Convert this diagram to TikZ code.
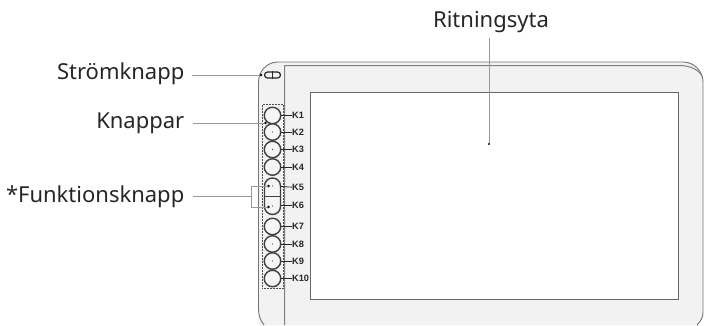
\documentclass[tikz,border=0pt]{standalone}
\usepackage{fontspec}
\setmainfont{Noto Sans}
\newfontfamily\keyfont{Liberation Sans}
\tikzset{
 lbl/.style={inner sep=0pt,font=\fontsize{22}{26}\selectfont,text=black!85},
 leader/.style={draw=black!40,line width=0.5pt},
 blob/.style={circle,fill=black,inner sep=0pt,minimum size=2.6pt},
 tiny/.style={circle,fill=black!70,inner sep=0pt,minimum size=1.2pt},
 kbtn/.style={circle,draw=black!75,line width=1.4pt,minimum size=16.5pt,inner sep=0pt,fill=black!4},
 klbl/.style={inner sep=0pt,anchor=west,font=\keyfont\bfseries\fontsize{9.2}{11}\selectfont,text=black!85},
 ktick/.style={draw=black!85,line width=0.8pt},
 frameline/.style={draw=black!50,line width=1pt},
}
\begin{document}
\begin{tikzpicture}[x=1pt,y=-1pt]
\useasboundingbox (0,0) rectangle (704,325);
% body
\fill[black!5] (258.5,325) -- (258.5,82) .. controls (258.5,71) and (267,62) .. (278,62) -- (683,62) .. controls (694,62) and (703,71) .. (703,82) -- (703,312) .. controls (703,317) and (701,321) .. (697,325) -- cycle;
\draw[black!55,line width=0.9pt] (264,325) .. controls (260,320) and (258.5,315) .. (258.5,308) -- (258.5,82) .. controls (258.5,71) and (267,62) .. (278,62) -- (683,62) .. controls (694,62) and (703,71) .. (703,82) -- (703,312) .. controls (703,317) and (701,321) .. (697,325);
% screen frame
\draw[frameline] (284.5,325) -- (284.5,65.5) -- (680,65.5) .. controls (690,65.5) and (699,70) .. (702,76);
\node[draw=black!60,line width=1pt,fill=white,minimum width=368pt,minimum height=207pt,inner sep=0pt,anchor=north west] (area) at (310,92) {};
% power
\node[draw=black!85,line width=1.2pt,rounded corners=3pt,minimum width=16pt,minimum height=6pt,inner sep=0pt] (pw) at (272.5,75) {};
\draw[black!85,line width=0.9pt] (pw.north) -- (pw.south);
% dotted box
\node[draw=black!70,densely dotted,line width=0.5pt,minimum width=21pt,minimum height=184pt,inner sep=0pt,anchor=north west] (kbox) at (262,104) {};
% buttons
\node[kbtn] (k1) at (272.5,115.5) {};
\node[kbtn] (k2) at (272.5,132) {};
\node[kbtn] (k3) at (272.5,149.5) {};
\node[kbtn] (k4) at (272.5,167) {};
\node[kbtn] (k7) at (272.5,226.5) {};
\node[kbtn] (k8) at (272.5,244) {};
\node[kbtn] (k9) at (272.5,261) {};
\node[kbtn] (k10) at (272.5,278.5) {};
\draw[draw=black!75,line width=1.4pt,fill=black!4,rounded corners=8pt] (264.5,178) rectangle (280.5,214.5);
\draw[black!75,line width=0.9pt] (264.5,196) -- (280.5,196);
\coordinate (k5) at (272.5,186);
\coordinate (k6) at (272.5,206);
\node[tiny] at (k2) {}; \node[tiny] at (k3) {};
\node[tiny] at (k8) {}; \node[tiny] at (k9) {};
\node[tiny] at (k5) {}; \node[tiny] at (k6) {};
% key labels
\node[klbl] (l1) at (292,115.5) {K1};
\node[klbl] (l2) at (292,132) {K2};
\node[klbl] (l3) at (292,149.5) {K3};
\node[klbl] (l4) at (292,167) {K4};
\node[klbl] (l5) at (292,187.5) {K5};
\node[klbl] (l6) at (292,205.5) {K6};
\node[klbl] (l7) at (292,226.5) {K7};
\node[klbl] (l8) at (292,244) {K8};
\node[klbl] (l9) at (292,261) {K9};
\node[klbl] (l10) at (292,278.5) {K10};
\foreach \n in {1,2,3,4,7,8,9,10} {\draw[ktick] (k\n) -- (l\n);}
\draw[ktick] (280.5,186.5) -- (l5);
\draw[ktick] (280.5,205.5) -- (l6);
% callouts
\node[lbl,anchor=east] (s) at (184.5,74) {Strömknapp};
\node[lbl,anchor=east] (kn) at (184.5,123.5) {Knappar};
\node[lbl,anchor=east] (f) at (184.5,196.5) {*Funktionsknapp};
\node[lbl,anchor=south] (r) at (491,33) {Ritningsyta};
\node[blob] (ds) at (261,75) {};
\node[blob] (dk) at (265.5,123) {};
\node[blob] (d5) at (268.5,186) {};
\node[blob] (d6) at (268.5,207) {};
\node[blob,minimum size=2.2pt] (dr) at (489,144) {};
\coordinate (b) at (251.5,196);
\draw[leader] (192,75) -- (ds);
\draw[leader] (193,123) -- (dk);
\draw[leader] (193,196) -- (b);
\draw[leader] (d5) -- (251.5,186) -- (251.5,207) -- (d6);
\draw[leader] (489,38) -- (dr);
\end{tikzpicture}
\end{document}
